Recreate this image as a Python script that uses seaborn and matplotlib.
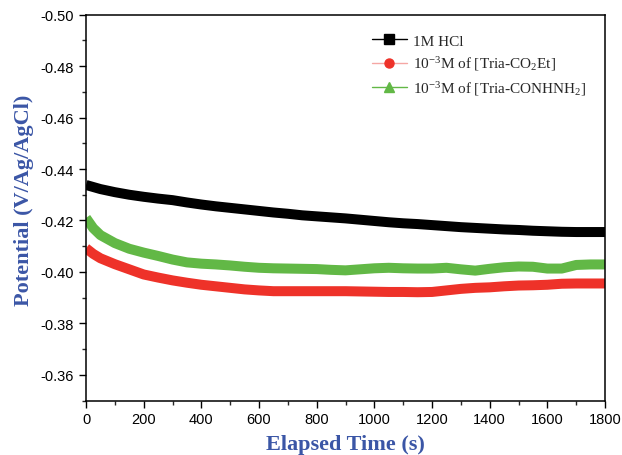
import numpy as np
import pandas as pd
import matplotlib
matplotlib.use("Agg")
import matplotlib.pyplot as plt
from matplotlib.lines import Line2D
import seaborn as sns

# Open-circuit potential vs. time for the three solutions
time_s = [0, 25, 50, 100, 150, 200, 250, 300, 350, 400, 450, 500, 550, 600,
          650, 700, 750, 800, 850, 900, 950, 1000, 1050, 1100, 1150, 1200,
          1250, 1300, 1350, 1400, 1450, 1500, 1550, 1600, 1650, 1700, 1750, 1800]

hcl = [-0.4338, -0.4330, -0.4322, -0.4310, -0.4300, -0.4292, -0.4285, -0.4279,
       -0.4270, -0.4262, -0.4255, -0.4249, -0.4243, -0.4237, -0.4231, -0.4226,
       -0.4220, -0.4216, -0.4212, -0.4208, -0.4203, -0.4198, -0.4193, -0.4189,
       -0.4186, -0.4182, -0.4178, -0.4174, -0.4171, -0.4168, -0.4165, -0.4163,
       -0.4160, -0.4158, -0.4156, -0.4155, -0.4155, -0.4155]

tria_co2et = [-0.4092, -0.4070, -0.4053, -0.4030, -0.4010, -0.3990, -0.3978,
              -0.3967, -0.3958, -0.3950, -0.3944, -0.3938, -0.3932, -0.3928,
              -0.3925, -0.3925, -0.3925, -0.3925, -0.3925, -0.3925, -0.3924,
              -0.3923, -0.3922, -0.3922, -0.3921, -0.3922, -0.3928, -0.3934,
              -0.3938, -0.3940, -0.3944, -0.3947, -0.3948, -0.3950, -0.3954,
              -0.3955, -0.3955, -0.3955]

tria_conhnh2 = [-0.4210, -0.4170, -0.4143, -0.4112, -0.4090, -0.4075, -0.4062,
                -0.4048, -0.4037, -0.4032, -0.4029, -0.4025, -0.4020, -0.4016,
                -0.4014, -0.4013, -0.4012, -0.4011, -0.4008, -0.4006, -0.4010,
                -0.4014, -0.4016, -0.4014, -0.4013, -0.4013, -0.4016, -0.4010,
                -0.4005, -0.4012, -0.4018, -0.4021, -0.4020, -0.4013, -0.4013,
                -0.4027, -0.4029, -0.4029]

labels = ["1M HCl",
          r"10$^{\mathregular{-3}}$M of [Tria-CO$_{\mathregular{2}}$Et]",
          r"10$^{\mathregular{-3}}$M of [Tria-CONHNH$_{\mathregular{2}}$]"]
colors = ["#000000", "#EE3229", "#62B846"]
legend_line_colors = ["#000000", "#F5A7A4", "#62B846"]
markers = ["s", "o", "^"]

df = pd.concat([
    pd.DataFrame({"t": time_s, "E": vals, "series": lab})
    for vals, lab in zip([hcl, tria_co2et, tria_conhnh2], labels)
])

sns.set_style("ticks")
plt.rcParams["font.family"] = ["Liberation Sans", "DejaVu Sans"]
plt.rcParams["mathtext.fontset"] = "custom"
plt.rcParams["mathtext.rm"] = "Liberation Serif"
plt.rcParams["mathtext.it"] = "Liberation Serif:italic"

fig = plt.figure(figsize=(6.22, 4.56), dpi=100)
ax = fig.add_axes([0.1383, 0.1195, 0.8344, 0.8461])

sns.lineplot(data=df, x="t", y="E", hue="series", palette=colors,
             hue_order=labels, linewidth=7.2, legend=False, ax=ax,
             solid_capstyle="butt")

ax.set_xlim(0, 1800)
ax.set_ylim(-0.35, -0.50)
ax.set_xticks(np.arange(0, 1801, 200))
ax.set_xticks(np.arange(0, 1801, 100), minor=True)
yt = np.arange(-0.50, -0.349, 0.02)
ax.set_yticks(yt)
ax.set_yticks(np.arange(-0.50, -0.349, 0.01), minor=True)
ax.set_yticklabels([f"{v:.2f}" for v in yt])
ax.tick_params(axis="both", which="major", direction="out", length=5,
               width=1, labelsize=10.5, colors="black")
ax.tick_params(axis="both", which="minor", direction="out", length=3, width=1)
for s in ax.spines.values():
    s.set_linewidth(1.1)
    s.set_color("black")

label_color = "#3B56A6"
ax.set_xlabel("Elapsed Time (s)", fontsize=16, fontweight="bold",
              family="Liberation Serif", color=label_color, labelpad=5.5)
ax.set_ylabel("Potential (V/Ag/AgCl)", fontsize=16, fontweight="bold",
              family="Liberation Serif", color=label_color)
ax.yaxis.set_label_coords(-0.101, 0.522)

handles = [Line2D([0], [0], color=lc, marker=m, markersize=6.5, linewidth=1,
                  markerfacecolor=c, markeredgecolor=c)
           for lc, c, m in zip(legend_line_colors, colors, markers)]
ax.legend(handles, labels, loc="upper left", bbox_to_anchor=(0.536, 0.970),
          frameon=False, labelspacing=0.45, handlelength=2.3,
          handletextpad=0.4, borderpad=0,
          prop={"family": "Liberation Serif", "size": 11})

fig.savefig("out.png", dpi=100)
